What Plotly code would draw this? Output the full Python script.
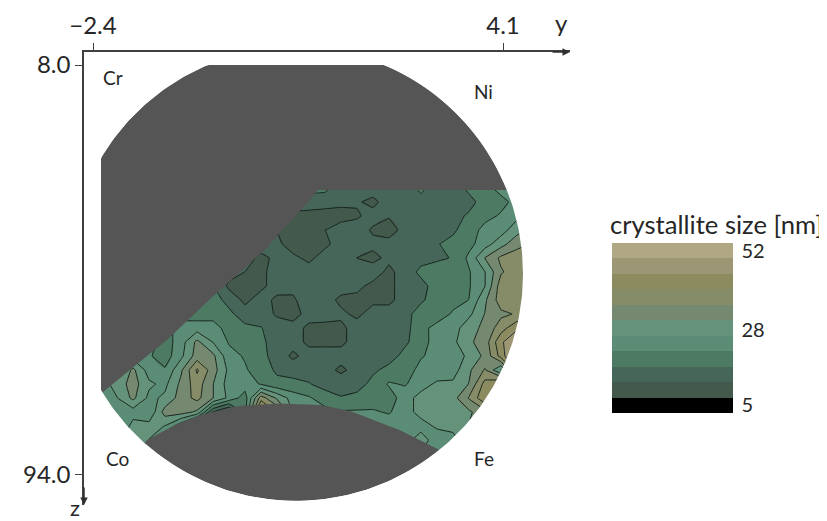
import numpy as np
import plotly.graph_objects as go

y_grid = [round(-2.273 + 0.2536 * i, 3) for i in range(28)]
z_grid = [round(33.8 + 2.937 * j, 2) for j in range(20)]

row_01 = [14]*13 + [18,18,14,14,14,14,14,18,14,14,18,20,23,24,26]
row_02 = [14]*13 + [15,14,13,12.5,11,14,14,15,15,15,15,19,20,23,27]
row_03 = [14]*12 + [11,10,10,10.5,11.5,13.5,12.5,14,14,14,15,17.5,20,22,25,28]
row_04 = [14]*11 + [12,10,10,12,14,14,11.5,9.5,14,14,14,16,19,23,24,29,32]
row_05 = [14]*10 + [14,13,10,10,11,14,14,13,14,14,15,16.5,18,20,24,29,34,36]
row_06 = [14]*9 + [14,11,13,13,11,14,14,12,11,13,14,15,16,17,22.5,31,36.5,38,38]
row_07 = [14]*8 + [14,12,11,14,14,14,14,14,14,14,11,14,18,19,19,21,26,35,38,38]
row_08 = [17]*7 + [17,11,11,11,14,13,14,14,14,13,11,11,14,15,19,19,21,26,38,38,38]
row_09 = [19]*6 + [19,19,15,11,14,11,11.5,14,14,11,11,11,11,14,16,19,20,21.5,30,38,38,38]
row_10 = [20]*5 + [20,19,19,18,14,14,11.5,10,14,13.5,13,11,14,14,15,19,19,22,25,31,34.5,36,36]
row_11 = [22]*4 + [20,23,24,24,19,18,17,14,14,11,11,11,14,14,14,15,20,23,24,29,32,38,44,44]
row_12 = [24]*3 + [24,19,24,32,26,21,19,18,14,14,11,11,11,14,14,15,16,19,24,25,30,33,44,50,40]
row_13 = [24]*2 + [24,22,19,25,33,32,23,21,18,15,11,14,14,14,14,14,15,18,21,23,24,27,32,42,54,50]
row_14 = [24] + [24,32,24,22,30,41,33,25,22,19,16,15,15,14,11,14,16,18,19,23,23,24,30,36,26,45,45]
row_15 = [24,28,33,27,25,32,38,31,24,24,21,18,18,17,15,15,15,18,22,21,24,27,27,31,42,46,35,35]
row_16 = [24,26,32,25,27,33,37,31,25,19,38,30,24,22,19,17,18,19,19,24,28,29,29,36,44,42,40,38]
row_17 = [24,22,24,22,33,33,30,12,5,20,50,40,26,24,23,22,22,22,21,24,28,29,29,30,34,40,40,40]
row_18 = [24,20,28,28,26,18,5,4,4,24,24,24,24,24,24,24,24,24,24,22,24,27,28,31,36,38,38,38]
row_19 = [24,24,33,26,24,24,24,24,24,24,24,24,24,24,24,24,24,24,24,24,29,23,24,30,30,30,30,30]
row_20 = [26]*28
size_nm = [row_01,row_02,row_03,row_04,row_05,row_06,row_07,row_08,row_09,row_10,
           row_11,row_12,row_13,row_14,row_15,row_16,row_17,row_18,row_19,row_20]
assert all(len(r) == 28 for r in size_nm)

band_colors = ["#000000","#43594b","#46665a","#4c7a63","#5b8d76","#65927a",
               "#74896f","#868c68","#8b8b5f","#9c9674","#b0a785"]
colorbar_ticks = [5, 28, 52]

# measured outline of the scanned area, in axis units
upper_edge_y = [-2.241,-1.734,-1.227,-0.513,0.358,0.565,1.040,1.167,4.131]
upper_edge_z = [76.6,71.1,65.7,56.7,46.4,43.2,36.3,34.2,34.2]
lower_edge_y = [-1.544,-1.100,-0.704,-0.070,0.565,1.199,1.674,2.467,3.101]
lower_edge_z = [86.66,83.5,81.4,79.5,79.0,79.3,80.6,84.6,88.8]

wafer_y, wafer_z = 0.818, 51.84
wafer_ry, wafer_rz = 3.599, 47.6
clip_y_min, clip_z_min = -2.273, 8.0

GREY = "#555555"
FONT = "Lato"
TEXT = "#262626"
PAGE_MARGIN = 8   # the page body offsets the figure by this many pixels
W, H = 827 - PAGE_MARGIN, 521 - PAGE_MARGIN

def arc(a0, a1, n=160):
    a = np.radians(np.linspace(a0, a1, n))
    return wafer_y + wafer_ry*np.cos(a), wafer_z - wafer_rz*np.sin(a)

def ang(y, z):
    return np.degrees(np.arctan2((wafer_z-z)/wafer_rz, (y-wafer_y)/wafer_ry))

n = len(band_colors)
colorscale = []
for i, c in enumerate(band_colors):
    colorscale += [[i/n, c], [(i+1)/n, c]]
step = 4.7
zmin, zmax = 5 - step/2, 52 + step/2

fig = go.Figure()
fig.add_trace(go.Contour(
    x=y_grid, y=z_grid, z=size_nm, colorscale=colorscale, zmin=zmin, zmax=zmax, zauto=False,
    autocontour=False,
    contours=dict(start=zmin+step, end=zmax-step, size=step, coloring="fill", showlines=False),
    line=dict(width=0), hoverinfo="skip",
    colorbar=dict(
        x=(612-84)/486, y=1-(328-52)/453,
        xanchor="left", yanchor="middle", xpad=0, ypad=0,
        thicknessmode="pixels", thickness=121, lenmode="pixels", len=170,
        outlinewidth=0, tickmode="array", tickvals=colorbar_ticks,
        ticks="outside", ticklen=5, tickcolor="rgba(0,0,0,0)",
        tickfont=dict(family=FONT, size=20, color=TEXT),
    ),
))
fig.add_trace(go.Contour(
    x=y_grid, y=z_grid, z=size_nm, showscale=False, autocontour=False,
    contours=dict(start=zmin+step, end=zmax-step, size=step, coloring="none"),
    line=dict(color="#16241d", width=1, smoothing=0), hoverinfo="skip",
))

# grey area above the scan
a_start = ang(upper_edge_y[-1], upper_edge_z[-1])
a_end = 360 + ang(upper_edge_y[0], upper_edge_z[0])
ay, az = arc(a_start, a_end)
ay, az = np.clip(ay, clip_y_min, None), np.clip(az, clip_z_min, None)
fig.add_trace(go.Scatter(
    x=list(ay)+upper_edge_y, y=list(az)+upper_edge_z, mode="lines", fill="toself",
    fillcolor=GREY, line=dict(width=0), hoverinfo="skip", showlegend=False))

# grey area below the scan
a_start = 360 + ang(lower_edge_y[-1], lower_edge_z[-1])
a_end = 360 + ang(lower_edge_y[0], lower_edge_z[0])
by, bz = arc(a_start, a_end)
fig.add_trace(go.Scatter(
    x=lower_edge_y+list(by), y=lower_edge_z+list(bz), mode="lines", fill="toself",
    fillcolor=GREY, line=dict(width=0), hoverinfo="skip", showlegend=False))

# white outside the wafer
cy, cz = arc(0, 360, 360)
rect_y = [cy[-1], 7.0, 7.0, -5.0, -5.0, 7.0, 7.0, cy[-1]]
rect_z = [cz[-1], cz[-1], 130, 130, -30, -30, cz[-1], cz[-1]]
fig.add_trace(go.Scatter(
    x=list(cy)+rect_y, y=list(cz)+rect_z, mode="lines", fill="toself",
    fillcolor="white", line=dict(width=0), hoverinfo="skip", showlegend=False))

x_range = [-2.5427, 5.162]
z_range = [100.3, 5.273]
axis_line = dict(showline=True, linecolor="#404040", linewidth=1.5, showgrid=False, zeroline=False,
                 ticks="outside", ticklen=7, tickwidth=1.2, tickcolor="#404040",
                 tickfont=dict(family=FONT, size=24, color=TEXT))
fig.update_xaxes(range=x_range, side="top", tickmode="array", tickvals=[-2.4, 4.1],
                 ticktext=["\u22122.4", "4.1"], **axis_line)
fig.update_yaxes(range=z_range, tickmode="array", tickvals=[8.0, 94.0],
                 ticktext=["8.0", "94.0"], **axis_line)

def px_text(x, y, s, size):
    fig.add_annotation(xref="paper", yref="paper", x=(x-84)/486, y=1-(y-52)/453, text=s,
                       xanchor="center", yanchor="middle",
                       showarrow=False, font=dict(family=FONT, size=size, color=TEXT))
px_text(113, 78, "Cr", 19)
px_text(483, 91, "Ni", 19)
px_text(117, 458, "Co", 19)
px_text(484, 458, "Fe", 19)
px_text(561, 22, "y", 24)
px_text(75, 507, "z", 22)
px_text(716, 224, "crystallite size [nm]", 25.6)

fig.add_annotation(x=x_range[1], y=z_range[1], ax=x_range[1]-0.3, ay=z_range[1], xref="x", yref="y",
                   axref="x", ayref="y", text="", showarrow=True, arrowhead=2, arrowsize=1,
                   arrowwidth=1.5, arrowcolor="#303030")
fig.add_annotation(x=x_range[0], y=z_range[0], ax=x_range[0], ay=z_range[0]-4, xref="x", yref="y",
                   axref="x", ayref="y", text="", showarrow=True, arrowhead=2, arrowsize=1,
                   arrowwidth=1.5, arrowcolor="#303030")

fig.update_layout(width=W, height=H,
                  margin=dict(l=84-PAGE_MARGIN, t=52-PAGE_MARGIN, r=827-570, b=521-505, autoexpand=False),
                  paper_bgcolor="white", plot_bgcolor="white", showlegend=False,
                  font=dict(family=FONT))
fig.write_html("out.html")
